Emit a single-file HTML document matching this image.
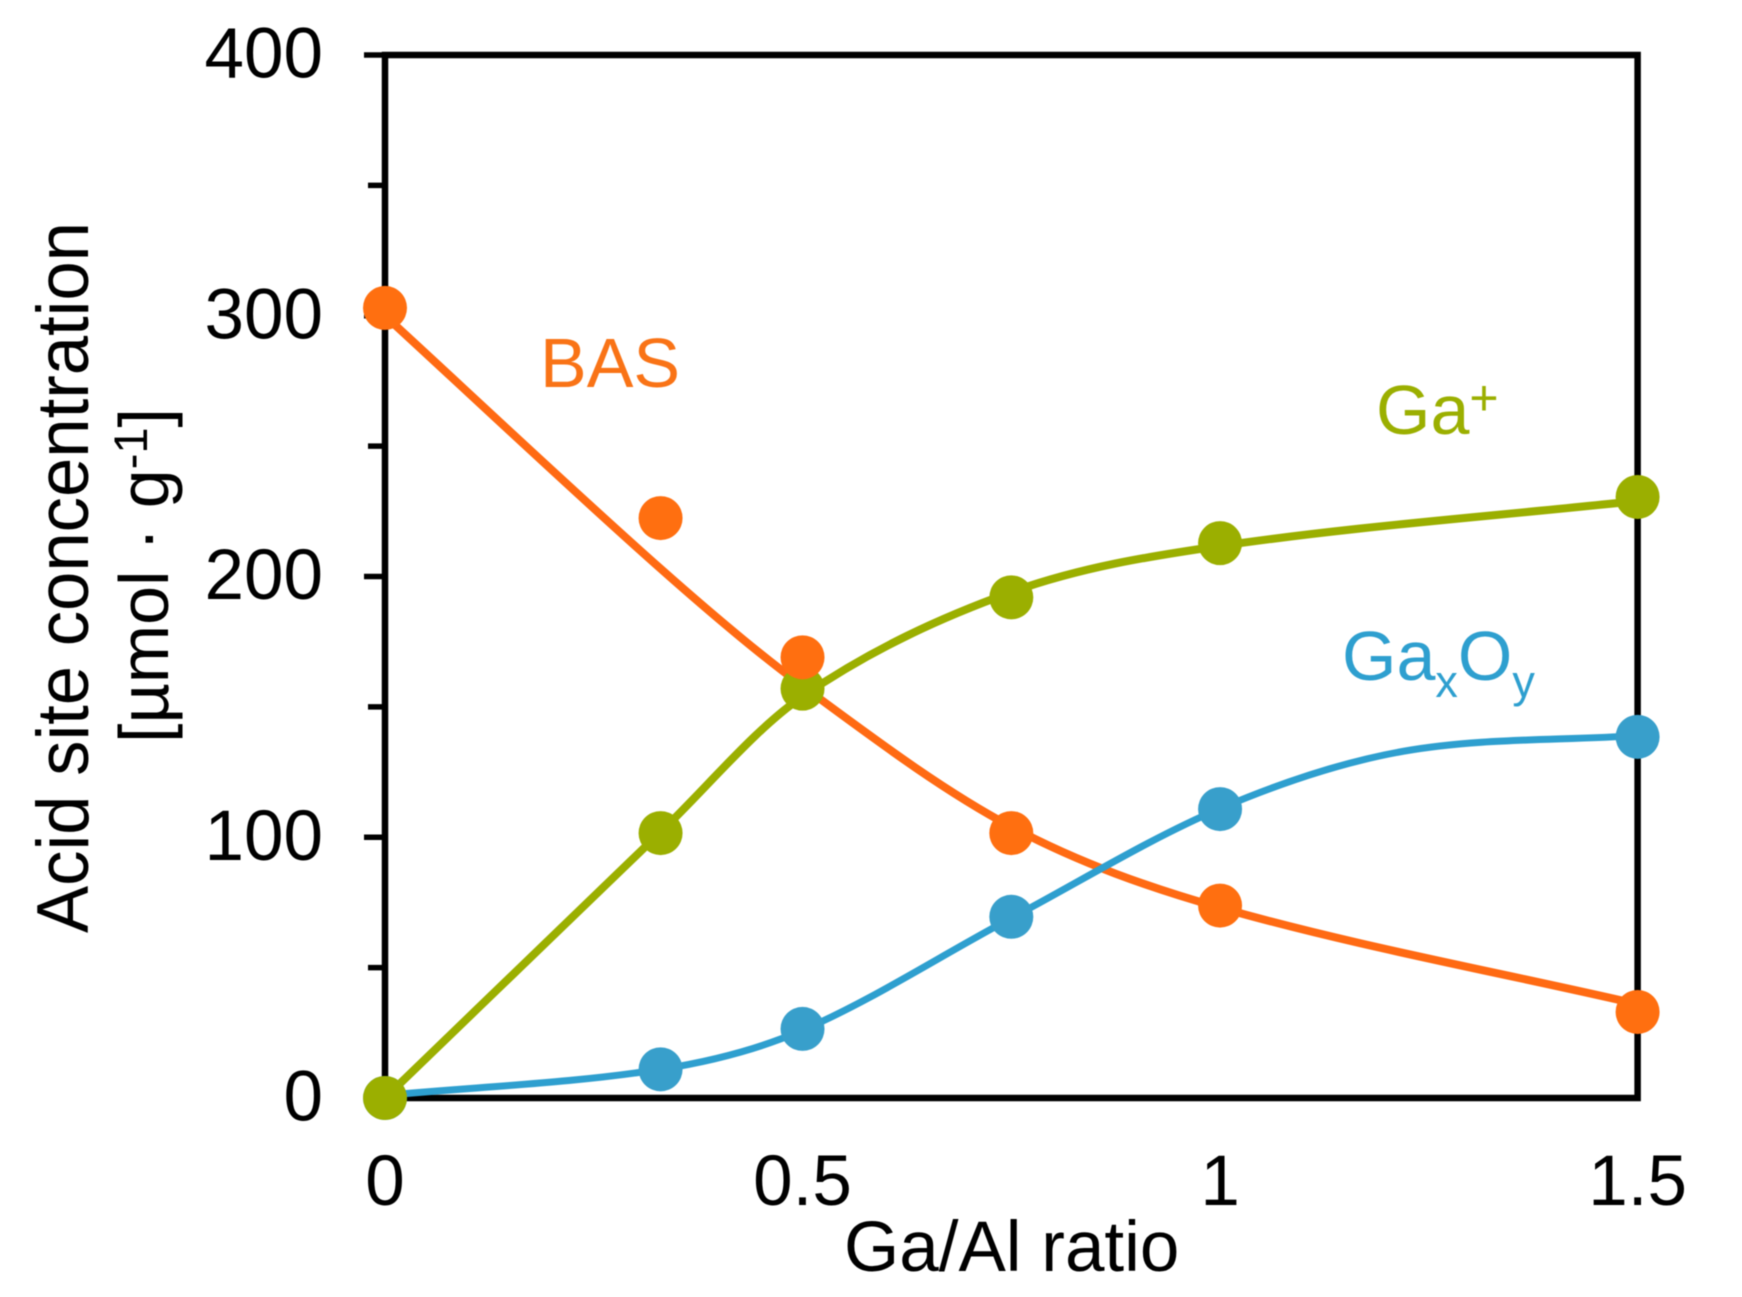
<!DOCTYPE html>
<html lang="en">
<head>
<meta charset="utf-8">
<title>Acid site concentration vs Ga/Al ratio</title>
<style>
html,body{margin:0;padding:0;background:#fff;width:1742px;height:1297px;overflow:hidden}
svg{display:block;filter:blur(0.6px)}
text{font-family:"Liberation Sans",Arial,sans-serif}
</style>
</head>
<body>
<svg id="chart" xmlns="http://www.w3.org/2000/svg" width="1742" height="1297" viewBox="0 0 1742 1297">
  <g id="grid-axes"></g>
  <g id="tick-labels" font-size="71" fill="#000"></g>
  <text transform="translate(88,933) rotate(-90)" font-size="73" textLength="711" lengthAdjust="spacingAndGlyphs" fill="#000">Acid site concentration</text>
  <text transform="translate(168,743) rotate(-90)" font-size="70" fill="#000">[µmol · g<tspan font-size="47" dy="-21">-1</tspan><tspan dy="21">]</tspan></text>
  <text x="844" y="1271" font-size="71" fill="#000">Ga/Al ratio</text>
  <g id="lines"></g>
  <g id="markers"></g>
  <text x="540" y="387" font-size="70" fill="#F97316">BAS</text>
  <text x="1376" y="434" font-size="70" fill="#9BAF00">Ga<tspan font-size="50" dy="-19">+</tspan></text>
  <text x="1342" y="680" font-size="70" fill="#2E9FCF">Ga<tspan font-size="45" dy="17">x</tspan><tspan dy="-17" font-size="70">O</tspan><tspan font-size="45" dy="17">y</tspan></text>
</svg>
<script>
const xTicks = [0, 0.5, 1, 1.5];
const xTickLabels = ["0", "0.5", "1", "1.5"];
const yMajorTicks = [0, 100, 200, 300, 400];
const yTickLabels = ["0", "100", "200", "300", "400"];
const yMinorTicks = [50, 150, 250, 350];

const pointX = [0, 0.33, 0.5, 0.75, 1, 1.5];
const basValues = [303, 222.4, 169, 101.6, 73.8, 33];
const gaValues = [0, 101.6, 157, 192, 212.8, 230.5];
const gaxoyValues = [0, 11, 26.5, 69.5, 110.8, 138.5];

const basFitX = [0, 0.33, 0.5, 0.75, 1, 1.5];
const basFitY = [300, 203, 158, 104, 73, 36];
const gaFitX = [0, 0.33, 0.5, 0.75, 1, 1.5];
const gaFitY = [0, 102, 154, 194, 211.7, 229];
const gaxoyFitX = [0, 0.33, 0.5, 0.75, 1, 1.22, 1.5];
const gaxoyFitY = [1, 11, 26, 69, 111, 133, 139];

const xMin = 0, xMax = 1.5, yMin = 0, yMax = 400;
const plotLeft = 385, plotRight = 1637.6, plotTop = 55, plotBottom = 1098;
function xScale(v){ return plotLeft + (v - xMin) / (xMax - xMin) * (plotRight - plotLeft); }
function yScale(v){ return plotBottom - (v - yMin) / (yMax - yMin) * (plotBottom - plotTop); }

const NS = "http://www.w3.org/2000/svg";
function make(tag, attrs, parent){
  const el = document.createElementNS(NS, tag);
  for (const k in attrs) el.setAttribute(k, attrs[k]);
  parent.appendChild(el);
  return el;
}
const frame = document.getElementById("grid-axes");
const labels = document.getElementById("tick-labels");
const linesG = document.getElementById("lines");
const markersG = document.getElementById("markers");

const frameRect = make("path", {d:`M${plotLeft} ${plotTop}H${plotRight}V${plotBottom}H${plotLeft}Z`, fill:"none", stroke:"#000", "stroke-width":6.5}, frame);



yMajorTicks.forEach(function(v){
  const t = make("line", {x1:364, x2:plotLeft, y1:yScale(v), y2:yScale(v), stroke:"#000", "stroke-width":5.5}, frame);
  
  
});
yMinorTicks.forEach(function(v){
  const t = make("line", {x1:368, x2:plotLeft, y1:yScale(v), y2:yScale(v), stroke:"#000", "stroke-width":5.5}, frame);
  
  
});
yMajorTicks.forEach(function(v, i){
  const t = make("text", {x:323, y:yScale(v) + 22.5, "text-anchor":"end"}, labels);
  t.textContent = yTickLabels[i];
  
  
});
xTicks.forEach(function(v, i){
  const t = make("text", {x:xScale(v), y:1205, "text-anchor":"middle"}, labels);
  t.textContent = xTickLabels[i];
  
  
});

function smoothPath(xs, ys){
  const n = xs.length, m = [];
  for (let i = 0; i < n; i++){
    const a = Math.max(i - 1, 0), b = Math.min(i + 1, n - 1);
    m.push((ys[b] - ys[a]) / (xs[b] - xs[a]));
  }
  let d = `M${xScale(xs[0])} ${yScale(ys[0])}`;
  for (let i = 0; i < n - 1; i++){
    const h = xs[i + 1] - xs[i];
    d += `C${xScale(xs[i] + h / 3)} ${yScale(ys[i] + m[i] * h / 3)} ${xScale(xs[i + 1] - h / 3)} ${yScale(ys[i + 1] - m[i + 1] * h / 3)} ${xScale(xs[i + 1])} ${yScale(ys[i + 1])}`;
  }
  return d;
}

const basLine = make("path", {d:smoothPath(basFitX, basFitY), fill:"none", stroke:"#FF6A13", "stroke-width":8}, linesG);


const gaLine = make("path", {d:smoothPath(gaFitX, gaFitY), fill:"none", stroke:"#9BAF00", "stroke-width":8}, linesG);


const gaxoyLine = make("path", {d:smoothPath(gaxoyFitX, gaxoyFitY), fill:"none", stroke:"#2E9FCF", "stroke-width":7}, linesG);



gaxoyValues.forEach(function(v, i){
  const c = make("circle", {cx:xScale(pointX[i]), cy:yScale(v), r:22, fill:"#389FCB"}, markersG);
  
  
});
gaValues.forEach(function(v, i){
  const c = make("circle", {cx:xScale(pointX[i]), cy:yScale(v), r:22, fill:"#9BAF00"}, markersG);
  
  
});
basValues.forEach(function(v, i){
  const c = make("circle", {cx:xScale(pointX[i]), cy:yScale(v), r:22, fill:"#FF6F10"}, markersG);
  
  
});
</script>
</body>
</html>
